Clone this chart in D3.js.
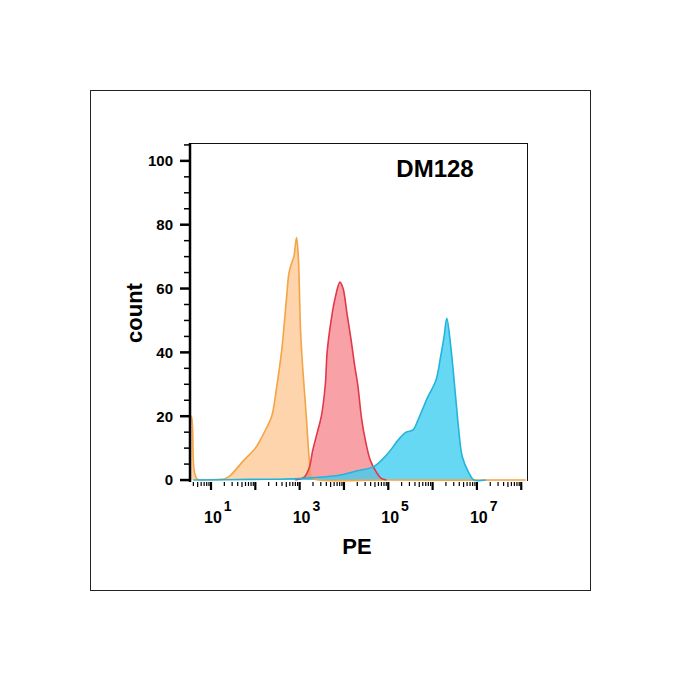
<!DOCTYPE html>
<html><head><meta charset="utf-8">
<script src="https://cdn.jsdelivr.net/npm/d3@7"></script>
<style>body{margin:0;background:#fff}svg{display:block}text{font-family:Arial,"Liberation Sans",sans-serif;font-weight:bold}</style>
</head><body>
<svg id="c" width="680" height="680"></svg>
<script>
// log10(PE) positions and counts
const orangeLog = [0.53,0.556,0.62,0.69,0.9,1.22,1.33,1.44,1.73,2.0,2.11,2.24,2.37,2.49,2.59,2.64,2.71,2.76,2.82,2.87,2.93,2.97,3.02,3.07,3.15,3.22,3.27,3.36,5,8.1];
const orangeVal = [20,20,3,0.3,0.1,0.2,0.5,1.5,6,10,12.5,16,20,30,40,47,58,65,68,70,76,70,47,35,20,6,1,0.2,0,0];
const redLog = [2.9,3.0,3.11,3.22,3.29,3.4,3.49,3.58,3.62,3.71,3.8,3.91,3.98,4.07,4.16,4.24,4.31,4.4,4.49,4.6,4.73,4.84,4.96];
const redVal = [0,0.3,1,4,9,15,20,30,40,50,57,62,60,52,44,36,30,19,12,6,2.5,0.5,0];
const blueLog = [0.6,1.89,3.0,3.89,4.33,4.67,5.0,5.22,5.4,5.56,5.67,5.89,6.07,6.18,6.26,6.32,6.41,6.52,6.59,6.67,6.82,6.93,7.2];
const blueVal = [0,0.2,0.5,1.5,3,4.2,8.5,12.5,15,15.7,18.8,26,31,38.6,45,50.7,41.8,26,15.7,7.3,2.2,0,0];
const yTicks = [0,20,40,60,80,100];
const xLabelExps = [1,3,5,7];
const title = "DM128";

const svg = d3.select("#c");
svg.append("rect").attr("x",90.5).attr("y",90.5).attr("width",500).attr("height",500).attr("fill","none").attr("stroke","#222").attr("stroke-width",1);

const L=190,R=527,T=143,B=481;
const x = d3.scaleLog().domain([Math.pow(10,0.526),Math.pow(10,8.13)]).range([L,R]);
const y = d3.scaleLinear().domain([-0.3,105.6]).range([B,T]);

const series = [
  {lg:orangeLog, v:orangeVal, fill:"rgba(252,185,120,0.62)", stroke:"#f4a445"},
  {lg:redLog, v:redVal, fill:"rgba(243,105,115,0.62)", stroke:"#e2384a"},
  {lg:blueLog, v:blueVal, fill:"rgba(60,205,240,0.78)", stroke:"#22b4dc"}
];
const area = d3.area().x(d=>x(Math.pow(10,d[0]))).y0(y(0)).y1(d=>y(d[1])).curve(d3.curveCatmullRom);
const line = d3.line().x(d=>x(Math.pow(10,d[0]))).y(d=>y(d[1])).curve(d3.curveCatmullRom);
const g = svg.append("g");
series.forEach(s=>{
  const pts = s.lg.map((l,i)=>[l,s.v[i]]);
  g.append("path").attr("d",area(pts)).attr("fill",s.fill);
});
series.forEach(s=>{
  const pts = s.lg.map((l,i)=>[l,s.v[i]]);
  g.append("path").attr("d",line(pts)).attr("fill","none").attr("stroke",s.stroke).attr("stroke-width",1.6);
});

// frame
svg.append("line").attr("x1",L).attr("x2",R).attr("y1",T+0.5).attr("y2",T+0.5).attr("stroke","#111").attr("stroke-width",1);
svg.append("line").attr("x1",R+0.5).attr("x2",R+0.5).attr("y1",T).attr("y2",B).attr("stroke","#111").attr("stroke-width",1);

// y axis
const minorY = d3.range(0,106,5);
const ya = svg.append("g").attr("transform",`translate(${L},0)`);
ya.append("line").attr("x1",0).attr("x2",0).attr("y1",T).attr("y2",B+1).attr("stroke","#000").attr("stroke-width",2.5);
minorY.forEach(v=>{
  const major = v%20===0;
  ya.append("line").attr("x1",major?-10:-6).attr("x2",0).attr("y1",y(v)).attr("y2",y(v)).attr("stroke","#000").attr("stroke-width",major?2.5:1.5);
});
yTicks.forEach(v=>{
  ya.append("text").attr("x",-17).attr("y",y(v)).attr("dy","0.36em").attr("text-anchor","end").attr("font-size",15).text(v);
});

// x axis
const xa = svg.append("g").attr("transform",`translate(0,${B})`);
for(let e=0;e<=8;e++){
  for(let m=1;m<10;m++){
    const val = m*Math.pow(10,e);
    const px = x(val);
    if(px<L+2||px>R+1) continue;
    const major = m===1;
    xa.append("line").attr("x1",px).attr("x2",px).attr("y1",1).attr("y2",major?9:(m===5?6:5)).attr("stroke","#000").attr("stroke-width",major?2.2:1.2);
  }
}
xLabelExps.forEach(e=>{
  const t = xa.append("text").attr("x",x(Math.pow(10,e))-7).attr("y",42).attr("text-anchor","start").attr("font-size",16);
  t.append("tspan").text("10");
  t.append("tspan").attr("dy",-12).attr("dx",2).attr("font-size",14).text(e);
});

svg.append("text").attr("x",357).attr("y",554).attr("text-anchor","middle").attr("font-size",22).text("PE");
svg.append("text").attr("transform","translate(142,313) rotate(-90)").attr("text-anchor","middle").attr("font-size",22).text("count");
svg.append("text").attr("x",435).attr("y",177).attr("text-anchor","middle").attr("font-size",24).text(title);
</script>
</body></html>
